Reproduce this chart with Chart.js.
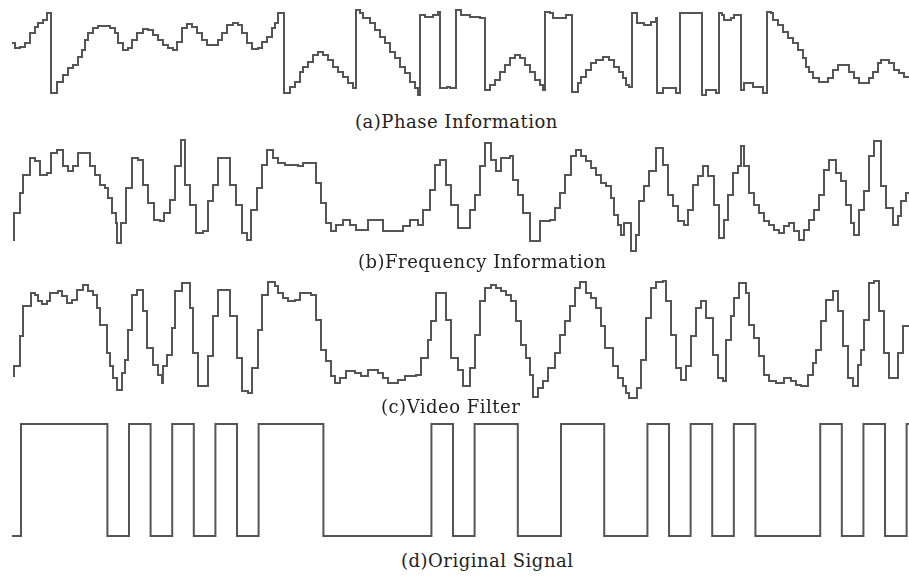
<!DOCTYPE html>
<html>
<head>
<meta charset="utf-8">
<script src="https://cdn.jsdelivr.net/npm/chart.js@4.4.0/dist/chart.umd.min.js"></script>
<style>
  body { margin: 0; background: #fff; }
  #wrap { position: relative; width: 909px; height: 577px; overflow: hidden; }
  canvas { position: absolute; left: 0; }
  .cap {
    position: absolute;
    font-family: 'DejaVu Serif', serif;
    font-size: 18px;
    line-height: 18px;
    letter-spacing: 0.5px;
    color: #222;
    white-space: nowrap;
  }
</style>
</head>
<body>
<div id="wrap"></div>
<script>
// (a) phase information: sample time and level
const phaseX = [12,15,20,25,30,35,38,43,47,51, 57,63,68,73,78,82,85,88,93,98,
  110,115,118,123,128,132,137,143,148,153, 158,163,168,173,177,182,187,192,197,202,
  207,218,222,227,233,238,242,247,252,258, 262,267,272,275,278,284,290,295,300,303,
  308,313,318,323,328,333,338,343,348,353, 356,360,363,370,375,380,385,390,395,400,
  405,410,415,418,420,425,433,438,440,447, 450,456,461,470,480,485,490,495,500,505,
  510,515,520,525,530,535,540,543,545,550, 553,566,572,578,581,586,591,596,603,609,
  614,619,623,626,629,632,637,644,651,656, 657,663,676,680,702,706,716,719,722,724,
  731,734,741,744,753,763,767,771,773,778, 783,788,793,798,803,806,809,813,819,828,
  833,838,849,854,859,869,873,878,881,889, 894,899,904,909];
const phaseY = [57,52,53,57,67,73,77,80,87,7, 18,25,32,35,43,50,60,67,72,74,
  72,67,57,50,52,60,67,71,70,65, 60,55,52,50,58,72,76,73,67,60,
  55,60,67,75,77,75,67,57,51,52, 58,63,72,77,87,7,13,18,28,33,
  38,45,48,45,40,33,28,23,17,12, 90,87,82,77,70,63,57,48,42,33,
  27,18,12,5,85,83,85,88,12,13, 12,90,85,83,82,10,15,20,28,35,
  42,45,42,35,28,20,15,10,88,87, 82,85,8,17,23,30,37,40,43,40,
  33,28,22,15,13,87,77,75,78,82, 7,12,7,87,5,10,7,87,85,80,
  82,85,10,17,13,7,88,87,80,75, 68,62,57,50,42,33,28,22,18,22,
  30,35,28,22,17,22,28,37,40,37, 30,27,23,23];

// (b) frequency information
const freqX = [13,14,20,23,30,35,40,47,51,57, 63,68,73,78,90,95,100,105,108,112,
  116,117,121,126,132,138,143,148,154,160, 164,170,175,181,185,190,196,203,208,213,
  218,230,236,242,247,251,257,262,267,273, 278,285,298,303,316,321,326,331,336,343,
  350,356,368,383,403,410,418,423,430,435, 440,446,451,458,470,475,480,485,491,496,
  501,510,513,518,523,530,540,550,555,560, 565,571,576,581,586,591,596,601,606,611,
  614,618,621,624,631,636,639,644,649,656, 663,668,673,678,684,688,693,698,703,708,
  714,719,724,728,733,738,741,744,749,754, 759,764,769,774,779,784,789,794,799,804,
  809,814,819,824,829,836,841,846,851,854, 859,864,869,874,881,886,893,898,901,906,
  909];
const freqY = [15,42,62,80,97,94,80,82,102,105, 89,84,89,102,89,80,70,67,57,42,
  32,12,32,67,97,95,70,52,35,34, 42,55,89,115,70,50,22,24,54,70,
  97,70,50,22,15,45,67,90,105,97, 92,90,89,92,72,52,32,24,30,35,
  30,25,35,24,29,35,30,45,65,90, 95,70,50,27,45,60,89,112,95,84,
  97,99,75,60,42,14,34,35,47,62, 80,99,105,99,94,87,80,72,69,57,
  40,30,20,32,4,20,54,69,84,107, 90,60,49,34,30,45,70,79,89,79,
  50,17,35,60,82,89,109,89,62,50, 42,34,30,25,22,29,32,24,15,25,
  35,45,60,85,95,82,74,50,32,20, 45,64,99,114,69,47,30,39,54,62,
  62];

// (c) video filter
const videoX = [13,14,20,23,31,35,38,42,47,50, 58,62,67,72,77,83,88,93,97,100,
  107,110,113,117,122,125,128,132,137,143, 147,153,158,162,163,167,172,175,182,190,
  193,198,208,213,218,230,237,242,248,252, 258,262,268,275,278,283,288,295,300,311,
  316,321,326,331,335,340,346,355,361,368, 378,383,388,398,405,416,421,428,431,436,
  446,451,458,463,470,475,480,485,491,496, 501,506,511,516,521,526,530,533,538,543,
  548,555,560,565,570,575,580,586,591,596, 601,605,613,618,623,626,629,637,641,646,
  651,656,663,666,671,676,681,686,691,696, 701,706,713,718,723,726,731,734,739,746,
  749,754,759,764,769,776,784,791,796,801, 808,813,816,821,826,833,838,843,848,853,
  858,861,864,869,874,879,884,889,898,903, 909];
const videoY = [24,34,64,94,107,105,99,96,99,107, 109,104,97,100,110,115,109,105,92,75,
  47,34,22,10,27,40,70,105,110,89, 52,35,25,17,34,45,72,109,117,92,
  47,14,44,84,110,84,42,9,7,32, 70,105,118,114,107,102,99,100,107,105,
  80,50,39,24,17,22,29,27,24,30, 27,22,17,20,24,25,42,60,79,107,
  80,42,30,14,32,65,99,112,115,112, 109,105,99,79,55,42,25,3,12,19,
  32,47,65,79,94,112,118,107,102,92, 74,52,34,22,14,7,2,12,40,82,
  112,118,119,99,65,32,20,34,64,92, 99,82,45,22,19,60,84,102,117,107,
  75,62,44,25,19,17,22,19,15,14, 25,37,50,79,100,109,89,54,22,14,
  35,50,80,117,119,89,47,22,47,74, 75];

// (d) original signal, one value per bit
const signalBits = [1,1,1,1,0,1,0,1,0,1,0,1,1,1,0,0,0,0,0,1,0,1,1,0,0,1,1,0,0,1,0,1,0,1,0,0,0,1,0,1,0,1];

const captions = ['(a)Phase Information', '(b)Frequency Information', '(c)Video Filter', '(d)Original Signal'];

const wrap = document.getElementById('wrap');

function addCaption(text, left, top) {
    const d = document.createElement('div');
    d.className = 'cap';
    d.textContent = text;
    d.style.left = left + 'px';
    d.style.top = top + 'px';
    wrap.appendChild(d);
}

function makePanel(points, top, height, xMin, xMax, yMin, yMax) {
    const cv = document.createElement('canvas');
    cv.width = 909;
    cv.height = height;
    cv.style.top = top + 'px';
    wrap.appendChild(cv);
    new Chart(cv.getContext('2d'), {
        type: 'line',
        data: {
            datasets: [{
                data: points,
                stepped: true,
                borderColor: '#555',
                borderWidth: 2,
                pointRadius: 0,
                fill: false,
                clip: false
            }]
        },
        options: {
            responsive: false,
            animation: false,
            events: [],
            layout: { padding: 0 },
            plugins: { legend: { display: false }, tooltip: { enabled: false } },
            scales: {
                x: { type: 'linear', display: false, min: xMin, max: xMax },
                y: { display: false, min: yMin, max: yMax }
            }
        }
    });
}

function zip(xs, ys) {
    return xs.map((x, i) => ({ x: x, y: ys[i] }));
}

makePanel(zip(phaseX, phaseY), 3, 100, 0, 909, -3, 97);
makePanel(zip(freqX, freqY), 133, 124, 0, 909, -2, 122);
makePanel(zip(videoX, videoY), 276, 124, 0, 909, 0, 124);

// bit timeline: low before the first bit, hold the last bit to the edge
const bitPoints = [{ x: -0.42, y: 0 }];
signalBits.forEach((b, i) => bitPoints.push({ x: i, y: b }));
bitPoints.push({ x: 41.2, y: 1 });
makePanel(bitPoints, 418, 124, -0.972, 41.11, -0.054, 1.054);

addCaption(captions[0], 355, 113);
addCaption(captions[1], 358, 253);
addCaption(captions[2], 381, 398);
addCaption(captions[3], 401, 552);
</script>
</body>
</html>
